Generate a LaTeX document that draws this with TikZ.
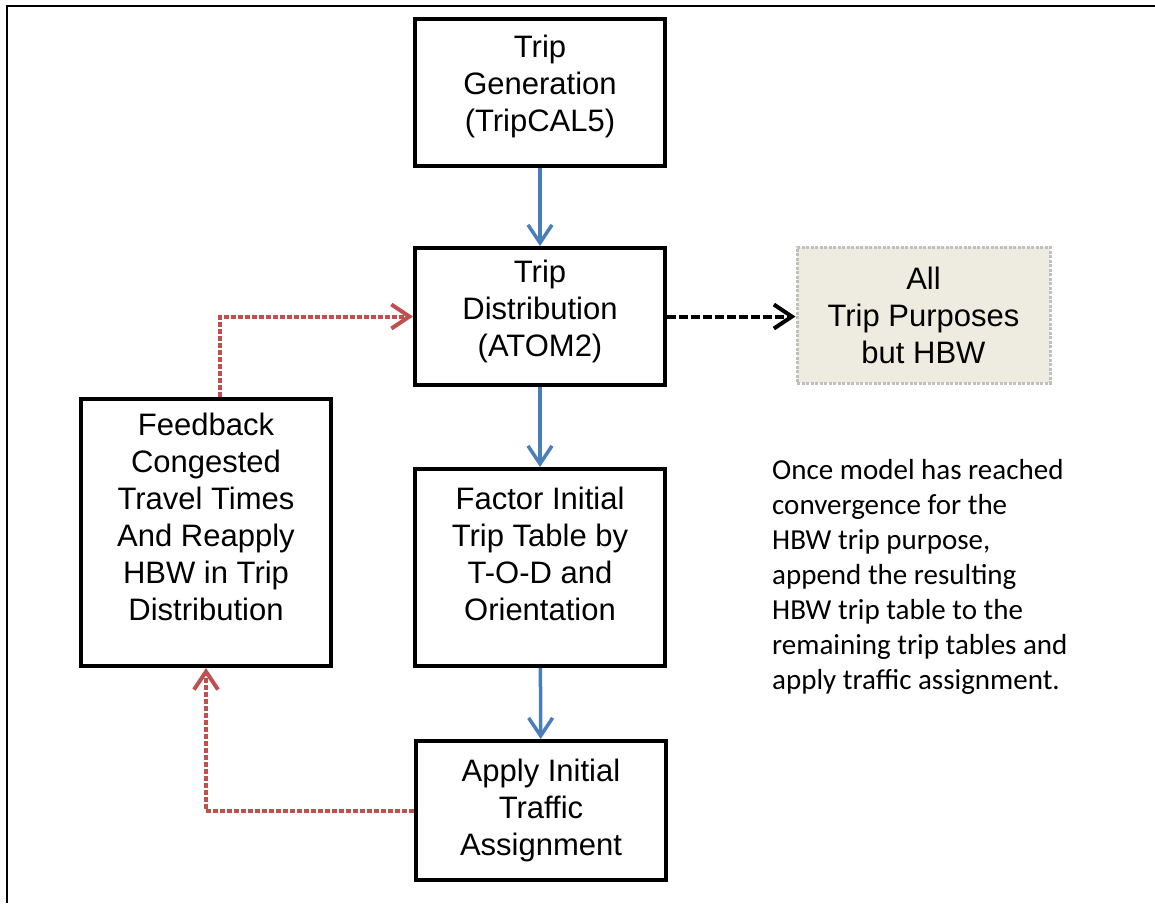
\documentclass[tikz,border=0pt]{standalone}
\usepackage{fontspec}
\setmainfont{Liberation Sans}
\newfontfamily\notefont{Carlito}
\usetikzlibrary{arrows.meta}
\definecolor{flowblue}{HTML}{4A7EBB}
\definecolor{loopred}{HTML}{C0504D}
\definecolor{tanfill}{HTML}{EEECE1}
\definecolor{tanedge}{HTML}{BFBFBF}
\tikzstyle{stage} = [draw, line width=4pt, minimum width=250pt, align=center, font=\fontsize{31}{37}\selectfont]
\tikzstyle{other} = [stage, draw=tanedge, fill=tanfill, line width=3pt, dash pattern=on 3pt off 1.5pt, minimum width=253pt]
\tikzstyle{flow} = [draw, line width=3.5pt, color=flowblue, -{Straight Barb[length=18pt, width=24pt, line width=3.5pt]}]
\tikzstyle{loop} = [draw, line width=4pt, color=loopred, dash pattern=on 5pt off 2pt, -{Straight Barb[length=18pt, width=24pt, line width=4pt]}]
\tikzstyle{link} = [draw, line width=4pt, color=black, dash pattern=on 9pt off 3pt, -{Straight Barb[length=18pt, width=24pt, line width=4pt]}]
\newcommand{\stage}[3]{
node (#1) [stage, minimum height=#2] {#3}}

\begin{document}
\begin{tikzpicture}[x=1pt, y=-1pt]

		\useasboundingbox (0,0) rectangle (1155,903);
		\draw [line width=2pt] (7,903) -- (7,6) -- (1155,6);

		% Draw diagram elements
		\path (540,92.5) \stage{gen}{147pt}{Trip\\Generation\\(TripCAL5)\\[-18pt]\mbox{}};
		\path (gen.south)+(0,148.5) \stage{dist}{137pt}{Trip\\Distribution\\(ATOM2)\\[-20pt]\mbox{}};
		\path (dist.south)+(0,180.5) \stage{fac}{197pt}{Factor Initial\\Trip Table by\\T-O-D and\\Orientation\\[-10pt]\mbox{}};
		\path (fac.south)+(1,142.5) \stage{app}{139pt}{Apply Initial\\Traffic\\Assignment};
		\path (fac.west)+(-207,-35) \stage{fb}{267pt}{Feedback\\Congested\\Travel Times\\And Reapply\\HBW in Trip\\Distribution\\[-6pt]\mbox{}};
		\path (dist.east)+(256.5,-1.5) node (all) [other, minimum height=136pt] {All\\Trip Purposes\\but HBW};
		\path (all.south west)+(-23.5,74.5) node (note) [anchor=north west, inner sep=0pt, align=left, font=\notefont\fontsize{29}{35}\selectfont]
			{Once model has reached\\convergence for the\\HBW trip purpose,\\append the resulting\\HBW trip table to the\\remaining trip tables and\\apply traffic assignment.};

		% Draw arrows between elements
		\path [flow] (gen) -- (dist);
		\path [flow] (dist) -- (fac);
		\path [flow] (fac) -- (app);
		\path [link] (dist.east) -- (dist.east -| all.west);
		\path [loop] (app.west) -| (fb.south);
		\path [loop] (fb.north) ++(14,0) |- (dist.west);

	\end{tikzpicture}
\end{document}
